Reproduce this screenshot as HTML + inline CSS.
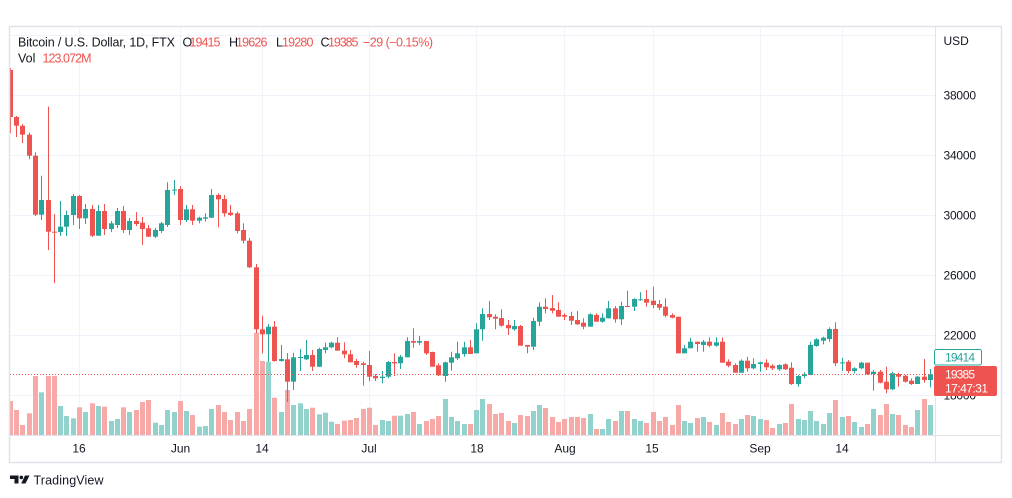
<!DOCTYPE html>
<html><head><meta charset="utf-8">
<style>
html,body{margin:0;padding:0;background:#fff;width:1012px;height:498px;overflow:hidden}
svg{display:block}
text{font-family:"Liberation Sans","DejaVu Sans",sans-serif;}
</style></head><body>
<svg width="1012" height="498" viewBox="0 0 1012 498" xmlns="http://www.w3.org/2000/svg">
<defs><clipPath id="cp"><rect x="10" y="27" width="925" height="408"/></clipPath></defs>
<rect width="1012" height="498" fill="#fff"/>
<g stroke="#f0f3fa" stroke-width="1">
<line x1="10" y1="35.5" x2="935" y2="35.5"/>
<line x1="10" y1="95.5" x2="935" y2="95.5"/>
<line x1="10" y1="155.5" x2="935" y2="155.5"/>
<line x1="10" y1="215.5" x2="935" y2="215.5"/>
<line x1="10" y1="275.5" x2="935" y2="275.5"/>
<line x1="10" y1="335.5" x2="935" y2="335.5"/>
<line x1="10" y1="395.5" x2="935" y2="395.5"/>
<line x1="79.5" y1="27" x2="79.5" y2="435"/>
<line x1="180.5" y1="27" x2="180.5" y2="435"/>
<line x1="262.5" y1="27" x2="262.5" y2="435"/>
<line x1="369.5" y1="27" x2="369.5" y2="435"/>
<line x1="476.5" y1="27" x2="476.5" y2="435"/>
<line x1="564.5" y1="27" x2="564.5" y2="435"/>
<line x1="653.5" y1="27" x2="653.5" y2="435"/>
<line x1="760.5" y1="27" x2="760.5" y2="435"/>
<line x1="842.5" y1="27" x2="842.5" y2="435"/>
</g>
<g clip-path="url(#cp)">
<g id="vol"></g>
<g id="cd"></g>
<line x1="10" y1="374.5" x2="935" y2="374.5" stroke="#ef5350" stroke-width="1" stroke-dasharray="1 2"/>
</g>
<!-- frame -->
<rect x="9.5" y="26.5" width="992" height="436" fill="none" stroke="#e0e3eb" stroke-width="1.5"/>
<line x1="935.5" y1="26" x2="935.5" y2="462" stroke="#e0e3eb" stroke-width="1"/>
<line x1="10" y1="435.5" x2="1001" y2="435.5" stroke="#e0e3eb" stroke-width="1"/>
<!-- legend -->
<g font-size="12.5">
<text x="18" y="46.5" fill="#131722" textLength="157">Bitcoin / U.S. Dollar, 1D, FTX</text>
<text x="182.5" y="46.5" fill="#131722">O</text>
<text x="189.5" y="46.5" fill="#ef5350" textLength="31">19415</text>
<text x="229" y="46.5" fill="#131722">H</text>
<text x="236" y="46.5" fill="#ef5350" textLength="31.5">19626</text>
<text x="276" y="46.5" fill="#131722">L</text>
<text x="282" y="46.5" fill="#ef5350" textLength="31.5">19280</text>
<text x="320.5" y="46.5" fill="#131722">C</text>
<text x="328" y="46.5" fill="#ef5350" textLength="30.5">19385</text>
<text x="363" y="46.5" fill="#ef5350" textLength="70">−29 (−0.15%)</text>
<text x="18" y="62.7" fill="#131722">Vol</text>
<text x="42.5" y="62.7" fill="#ef5350" textLength="49">123.072M</text>
</g>
<!-- price axis -->
<g font-size="12" fill="#131722">
<text x="943.5" y="45">USD</text>
<text x="943.5" y="99.5" textLength="32.5">38000</text>
<text x="943.5" y="159.5" textLength="32.5">34000</text>
<text x="943.5" y="219.5" textLength="32.5">30000</text>
<text x="943.5" y="279.5" textLength="32.5">26000</text>
<text x="943.5" y="339.5" textLength="32.5">22000</text>
<text x="943.5" y="399.5" textLength="32.5">18000</text>
</g>
<rect x="934.5" y="349.5" width="47" height="15.5" rx="2" fill="#fff" stroke="#26a69a" stroke-width="1"/>
<text x="945" y="361.7" font-size="12" fill="#26a69a" textLength="30">19414</text>
<rect x="934" y="366" width="63" height="30" rx="2" fill="#ef5350"/>
<text x="945" y="378.3" font-size="12" fill="#fff" textLength="30">19385</text>
<text x="945" y="392.6" font-size="12" fill="#fff" textLength="43">17:47:31</text>
<!-- time axis -->
<g font-size="12" fill="#131722" text-anchor="middle">
<text x="79" y="452.7">16</text>
<text x="180.5" y="452.7">Jun</text>
<text x="262" y="452.7">14</text>
<text x="369" y="452.7">Jul</text>
<text x="477" y="452.7">18</text>
<text x="565" y="452.7">Aug</text>
<text x="652" y="452.7">15</text>
<text x="760" y="452.7">Sep</text>
<text x="842" y="452.7">14</text>
</g>
<!-- logo -->
<g fill="#131722">
<rect x="10" y="475.5" width="8.5" height="3.5"/>
<rect x="14.5" y="475.5" width="4" height="8"/>
<circle cx="21.3" cy="477.4" r="1.8"/>
<polygon points="25,475.5 29.5,475.5 25.5,483.5 21.2,483.5"/>
</g>
<text x="33.5" y="484.4" font-size="12.5" fill="#131722" textLength="70">TradingView</text>
</svg>
<script>
var C=[
[70,68,133,117],[117,116,137,125.7],[125.7,124,143,134.7],[134.7,132.7,159.3,155.7],[155.7,152.3,216,214.7],
[214.7,175.7,220,200],[200,106.7,250,231.7],[231.7,214,283,232.3],[232,201,236,226.7],[226.7,210.7,236,215],
[215,194,225,196],[196,195,229,218.3],[218.3,204,224,209],[209,205,237,235.7],[235.7,205,236,211],
[211,204,235,229],[229,221,232,223.3],[225,208,228,211],[211,206,233,230],[230,218,235,221],
[221,212,226,224],[222.7,217,245,229],[228.3,225,237,236.7],[236.7,228,238,230],[231,222,233,223.3],
[225,182.3,227,190],[190,180,195,189.6],[189,186,225,220],[220,205,222,209.3],[209.3,205,225,220.7],
[220.7,216.7,223.3,217.7],[218.7,213.3,221.7,217.3],[217.7,189,218,195],[195,193.3,227.3,199.3],[199,195,216.7,213.3],
[212.7,205,216,215],[213.3,211.7,233.3,231],[230,223.3,243.3,240.7],[240.7,238,268,267.3],[267.3,264,333,329.3],
[329.3,315.7,353.3,334.3],[334.3,324,361.7,326.7],[326.7,321,361.7,361],[361,345,361.7,359],[359.3,353,402,381.7],
[381.7,352.7,390,357.3],[357.3,349,371,357],[359.3,340,360,355],[355,350,371,366.7],[366.7,347.7,367,349],
[350,342.7,353.3,347.3],[347.3,341.7,348.3,342.7],[342.7,337.3,350.7,350.7],[350.7,342.3,358.3,354.3],[354.3,350,362.3,362.3],
[361,358.7,367.7,365],[363.3,361.7,385.7,365],[365,351,381,376.7],[376,374,381,378.3],[378,371,383.3,376.7],
[376.7,361,378.3,362],[362,353.3,376,363.3],[363.3,355,369,356.7],[357.3,337.3,357.3,341],[341,328.3,347.7,342.7],
[342.7,336,345,341],[341,341,355,353.3],[352,351.7,366.7,366.7],[365.3,363.3,376,375.3],[376,361.7,381.7,362.3],
[362.7,351.7,370.7,357.3],[358.3,341.7,360,353.3],[354,341.7,356.7,347.3],[347.3,340,354,354],[353.3,323.3,353.3,329.3],
[329.3,308.3,340.7,314],[314,301,320,317.3],[316.7,314.3,329.3,318.7],[318,309.3,326.7,325.7],[325,320,335,328.3],
[329.3,320,330.7,326],[326,325,345.7,345.7],[345,345,353.3,346.7],[346.7,317.7,350,321],[321.7,302.3,326,306.7],
[306.7,298.3,313.3,309],[308,295,313.3,310.7],[310,302.3,316.7,316.7],[315,313.3,320,316.7],[316,311.7,325,320.7],
[320,311,325,324.3],[322.7,318.3,329.3,326.7],[326.7,313.3,326.7,314.3],[315,313.3,321.7,321.7],[321.7,313.3,322.7,317.7],
[318.3,301,318.3,308.3],[308.3,306,322.7,319.3],[319.3,301.7,325,306],[306,290.7,306.7,306.7],[306.7,298.3,311,299],
[299.7,292.3,300.7,299.3],[299,290,306.7,302.7],[300.7,286.7,308.3,305],[304,300,310,307.7],[306.7,298.3,317.3,315.7],
[315,313.3,318.3,317.7],[316.7,316.7,353.3,353.3],[353.3,345,353.3,348.3],[348.3,337.7,348.3,341.7],[341.7,341.7,351.7,344],
[345,340,351.7,341.7],[341.7,337.3,347.3,345.7],[345.7,337.3,346.7,342.3],[341.7,337.3,362.7,362.7],[361.7,359.3,367.3,365.7],
[365,363.3,372.7,372.7],[372.7,359.3,372.7,360.7],[360.7,356.7,371.7,368.3],[368.3,358.3,369.3,364],[364,361.7,371.7,362.3],
[362.7,359.3,370,367.3],[365.7,364.3,370,368.3],[369.3,364.3,370.7,365],[364.3,363.3,370,369.3],[367.7,362.3,385,384],
[384,375,386.7,376],[376,372.3,378.3,374.3],[375,341.7,375,345],[346,338.3,346.7,339.3],[340.7,336.7,344.3,337.7],
[339,327.3,341.7,329],[329,322.3,366,363.3],[363,357.7,371,362.4],[361.7,360,373.3,371],[371,367.3,373.3,368.3],
[368.3,361.7,369.3,362.7],[362.7,362.7,375,374.3],[374,370,390.7,371.7],[371.7,370,383.3,382.7],[381.7,366.7,393.3,389.3],
[389.3,371.7,390,373.3],[374,372.7,386.7,376.7],[375.7,375,382.7,381.7],[380.7,378.3,385,384],[384,376,384,376.7],
[376.7,359,382.7,380],[380,369,387.3,374.3]
];
var V=[401,410,425,413.3,376,392.3,376,376,406,416,418.3,407.3,412,403.3,406,406.7,421,419,407.3,412,410,402,400,422.7,425,410,412,401,411,415,426.7,426,409,405,412,420,412,421,409,332.7,361,361.7,397.7,412,390,405,403.3,409,407.7,414.3,412.7,421.7,424,420.7,420,418,409,407.7,425,420,421,415.7,415.7,414,412,424,421,419,416,399,417,421,424,424,410,399,404,414,413,421,423,415,416,411,405,408,417,422,419,417,417,418,414,429,429,419,421,411,411,419,421,423,412,421,417,425,405,421,423,418,417,422,425,413,422,424,419,415,416,419,420,428,424,423,404,419,420,411,421,424,413,400,417,416,422,427,424,409,415,404,414,415,425,427,410,399,405];
var ns="http://www.w3.org/2000/svg";
var gv=document.getElementById("vol"),gc=document.getElementById("cd");
function r(g,x,y,w,h,f){var e=document.createElementNS(ns,"rect");e.setAttribute("x",x);e.setAttribute("y",y);e.setAttribute("width",w);e.setAttribute("height",h);e.setAttribute("fill",f);g.appendChild(e);}
for(var i=0;i<C.length;i++){
 var d=C[i],cx=10.2+6.303*i,bx=Math.round(cx-2.5);
 var up=d[3]<=d[0];
 var col=up?"#26a69a":"#ef5350",vc=up?"#92d2cc":"#f7a9a7";
 r(gv,bx,V[i],5,435-V[i],vc);
 r(gc,bx+2,d[1],1,Math.max(1,d[2]-d[1]),col);
 var t=Math.min(d[0],d[3]),h=Math.max(1,Math.abs(d[3]-d[0]));
 r(gc,bx,t,5,h,col);
}
</script>
</body></html>
